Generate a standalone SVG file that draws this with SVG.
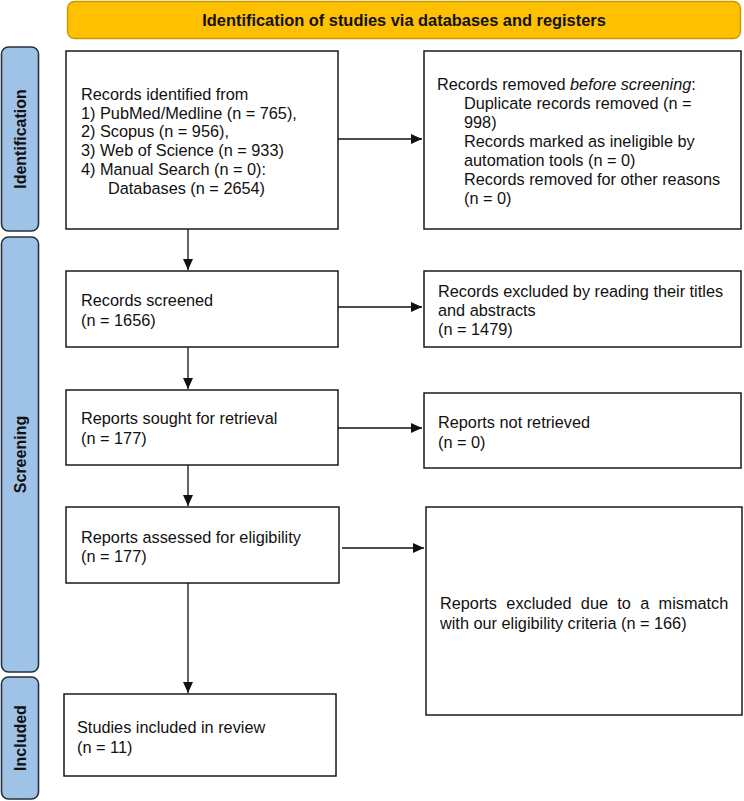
<svg xmlns="http://www.w3.org/2000/svg" width="744" height="801" viewBox="0 0 744 801">
<defs>
<style>
.box{fill:#fff;stroke:#1a1a1a;stroke-width:1.5}
.side{fill:#9fc3e7;stroke:#27313d;stroke-width:1.6}
.hdr{fill:#ffc000;stroke:#c99a06;stroke-width:1.4}
.t{font-family:"Liberation Sans",Arial,sans-serif;font-size:16.3px;fill:#111}
.hb{font-family:"Liberation Sans",Arial,sans-serif;font-size:16.4px;font-weight:bold;fill:#111}
.sb{font-family:"Liberation Sans",Arial,sans-serif;font-size:16px;font-weight:bold;fill:#111}
.c{stroke:#111;stroke-width:1.3;fill:none}
</style>
<marker id="ah" markerUnits="userSpaceOnUse" markerWidth="11" markerHeight="10" refX="11" refY="5" orient="auto">
<path d="M0,0 L11,5 L0,10 Z" fill="#111"/>
</marker>
</defs>
<rect width="744" height="801" fill="#fff"/>

<g id="header">
<rect class="hdr" x="67.5" y="1.5" width="673" height="37" rx="7"/>
<text class="hb" x="404" y="26" text-anchor="middle">Identification of studies via databases and registers</text>
</g>

<g id="side-identification">
<rect class="side" x="1.5" y="47" width="37" height="184" rx="7"/>
<text class="sb" transform="translate(26,139) rotate(-90)" text-anchor="middle">Identification</text>
</g>
<g id="side-screening">
<rect class="side" x="1.5" y="237" width="37" height="435" rx="7"/>
<text class="sb" transform="translate(26,454.5) rotate(-90)" text-anchor="middle">Screening</text>
</g>
<g id="side-included">
<rect class="side" x="1.5" y="677" width="37" height="122" rx="7"/>
<text class="sb" transform="translate(26,738) rotate(-90)" text-anchor="middle">Included</text>
</g>

<g id="box-identified">
<rect class="box" x="66" y="51" width="272" height="178"/>
<text class="t" x="81" y="99.5">Records identified from</text>
<text class="t" x="81" y="118.5">1) PubMed/Medline (n = 765),</text>
<text class="t" x="81" y="137">2) Scopus (n = 956),</text>
<text class="t" x="81" y="156">3) Web of Science (n = 933)</text>
<text class="t" x="81" y="175">4) Manual Search (n = 0):</text>
<text class="t" x="108" y="194">Databases (n = 2654)</text>
</g>

<g id="box-removed">
<rect class="box" x="424" y="51" width="317" height="178"/>
<text class="t" x="437" y="89.5">Records removed <tspan font-style="italic">before screening</tspan>:</text>
<text class="t" x="464" y="109">Duplicate records removed (n =</text>
<text class="t" x="464" y="128">998)</text>
<text class="t" x="464" y="147">Records marked as ineligible by</text>
<text class="t" x="464" y="166">automation tools (n = 0)</text>
<text class="t" x="464" y="185">Records removed for other reasons</text>
<text class="t" x="464" y="204">(n = 0)</text>
</g>

<g id="box-screened">
<rect class="box" x="66" y="271" width="272" height="76"/>
<text class="t" x="81" y="305.5">Records screened</text>
<text class="t" x="81" y="325.5">(n = 1656)</text>
</g>

<g id="box-excluded-titles">
<rect class="box" x="424" y="271" width="317" height="76"/>
<text class="t" x="438" y="296.5">Records excluded by reading their titles</text>
<text class="t" x="438" y="315.5">and abstracts</text>
<text class="t" x="438" y="334.5">(n = 1479)</text>
</g>

<g id="box-sought">
<rect class="box" x="66" y="390" width="272" height="75"/>
<text class="t" x="81" y="423.5">Reports sought for retrieval</text>
<text class="t" x="81" y="443.5">(n = 177)</text>
</g>

<g id="box-not-retrieved">
<rect class="box" x="424" y="393" width="317" height="75"/>
<text class="t" x="438" y="427.5">Reports not retrieved</text>
<text class="t" x="438" y="447.5">(n = 0)</text>
</g>

<g id="box-assessed">
<rect class="box" x="66" y="507" width="273" height="76"/>
<text class="t" x="81" y="542.5">Reports assessed for eligibility</text>
<text class="t" x="81" y="561.5">(n = 177)</text>
</g>

<g id="box-excluded-mismatch">
<rect class="box" x="426" y="507" width="316" height="208"/>
<text class="t" x="440" y="608.5" word-spacing="4.8">Reports excluded due to a mismatch</text>
<text class="t" x="440" y="628.5">with our eligibility criteria (n = 166)</text>
</g>

<g id="box-included">
<rect class="box" x="64" y="694" width="272" height="82"/>
<text class="t" x="77" y="732.5">Studies included in review</text>
<text class="t" x="77" y="752.5">(n = 11)</text>
</g>

<g id="connectors">
<line class="c" x1="338" y1="139" x2="422" y2="139" marker-end="url(#ah)"/>
<line class="c" x1="338" y1="307" x2="422" y2="307" marker-end="url(#ah)"/>
<line class="c" x1="338" y1="428" x2="422" y2="428" marker-end="url(#ah)"/>
<line class="c" x1="342" y1="548" x2="424" y2="548" marker-end="url(#ah)"/>
<line class="c" x1="188" y1="229" x2="188" y2="270" marker-end="url(#ah)"/>
<line class="c" x1="188" y1="347" x2="188" y2="389" marker-end="url(#ah)"/>
<line class="c" x1="188" y1="465" x2="188" y2="506" marker-end="url(#ah)"/>
<line class="c" x1="188" y1="583" x2="188" y2="693" marker-end="url(#ah)"/>
</g>
</svg>
